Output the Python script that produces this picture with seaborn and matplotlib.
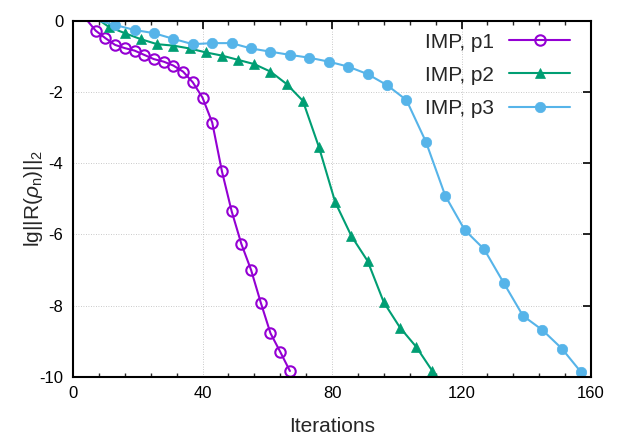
import numpy as np
import pandas as pd
import matplotlib
matplotlib.use("Agg")
import matplotlib.pyplot as plt
import seaborn as sns
from matplotlib.ticker import MultipleLocator
from matplotlib.lines import Line2D

# ---- data ----
iter_p1 = [4, 7, 10, 13, 16, 19, 22, 25, 28, 31, 34, 37, 40, 43, 46, 49, 52, 55, 58, 61, 64, 67]
res_p1 = [0.05, -0.28, -0.49, -0.68, -0.77, -0.84, -0.96, -1.08, -1.15, -1.26, -1.43, -1.73,
          -2.16, -2.86, -4.23, -5.35, -6.27, -7.00, -7.92, -8.78, -9.30, -9.84]

iter_p2 = [6, 11, 16, 21, 26, 31, 36, 41, 46, 51, 56, 61, 66, 71, 76, 81, 86, 91, 96, 101, 106, 111]
res_p2 = [0.15, -0.17, -0.35, -0.52, -0.66, -0.70, -0.78, -0.89, -0.98, -1.10, -1.22, -1.43,
          -1.78, -2.25, -3.56, -5.10, -6.05, -6.75, -7.91, -8.62, -9.16, -9.84]

iter_p3 = [7, 13, 19, 25, 31, 37, 43, 49, 55, 61, 67, 73, 79, 85, 91, 97, 103, 109, 115,
           121, 127, 133, 139, 145, 151, 157]
res_p3 = [0.02, -0.12, -0.26, -0.35, -0.51, -0.66, -0.63, -0.63, -0.78, -0.87, -0.96, -1.04,
          -1.15, -1.29, -1.50, -1.81, -2.23, -3.40, -4.92, -5.88, -6.42, -7.36, -8.29,
          -8.69, -9.21, -9.88]

labels = ["IMP, p1", "IMP, p2", "IMP, p3"]
colors = ["#9400D3", "#009E73", "#56B4E9"]
x_ticks = [0, 40, 80, 120, 160]
y_ticks = [0, -2, -4, -6, -8, -10]

sns.set_theme(style="white")
plt.rcParams["font.family"] = ["Liberation Sans", "DejaVu Sans"]
plt.rcParams["mathtext.fontset"] = "custom"
plt.rcParams["mathtext.rm"] = "Liberation Sans"
plt.rcParams["mathtext.it"] = "Liberation Sans:italic"

fig = plt.figure(figsize=(6.23, 4.36), dpi=100)
ax = fig.add_axes([73 / 623, 1 - 376.7 / 436, (591 - 73) / 623, (376.7 - 20.7) / 436])

series = [
    (iter_p1, res_p1, "o", dict(markerfacecolor="none", markersize=7.5, markeredgewidth=1.5)),
    (iter_p2, res_p2, "^", dict(markersize=7, markeredgewidth=0.5)),
    (iter_p3, res_p3, "o", dict(markersize=7.5, markeredgewidth=0.5)),
]

handles = []
for (xs, ys, mk, extra), lab, col in zip(series, labels, colors):
    df = pd.DataFrame({"x": xs, "y": ys})
    visible = [i for i, v in enumerate(ys) if v <= 0]
    sns.lineplot(data=df, x="x", y="y", ax=ax, color=col, marker=mk,
                 markevery=visible, markeredgecolor=col, linewidth=1.5,
                 estimator=None, sort=False, legend=False, **extra)
    handles.append(Line2D([], [], color=col, marker=mk, markeredgecolor=col,
                          linewidth=1.5, **extra))

ax.set_xlim(0, 160)
ax.set_ylim(-10, 0)
ax.set_xticks(x_ticks)
ax.set_yticks(y_ticks)
ax.set_xticklabels([str(t) for t in x_ticks])
ax.set_yticklabels([str(t) for t in y_ticks])
ax.xaxis.set_minor_locator(MultipleLocator(8))

ax.grid(True, which="major", color="#b8b8b8", linestyle=(0, (1, 2)), linewidth=0.6)
for s in ax.spines.values():
    s.set_visible(True)
    s.set_color("black")
    s.set_linewidth(1.5)

ax.tick_params(which="major", direction="in", length=6, width=1.2, top=True, right=True,
               labelsize=12, pad=7, colors="black")
ax.tick_params(which="minor", direction="in", length=3, width=1.0, top=True, right=False,
               left=False, bottom=True)
ax.tick_params(axis="y", which="minor", left=False, right=False)

ax.set_xlabel("Iterations", fontsize=15, labelpad=11)
ax.set_ylabel(r"lg||R($\rho_{\mathrm{n}}$)||$_{\mathrm{2}}$", fontsize=15, labelpad=-4)

leg = ax.legend(handles, labels, loc="upper right", bbox_to_anchor=(0.975, 0.99),
                frameon=False, markerfirst=False, fontsize=15, handlelength=2.9,
                labelspacing=0.68, handletextpad=0.75, borderaxespad=0.0, numpoints=1)

fig.savefig("out.png", dpi=100)
